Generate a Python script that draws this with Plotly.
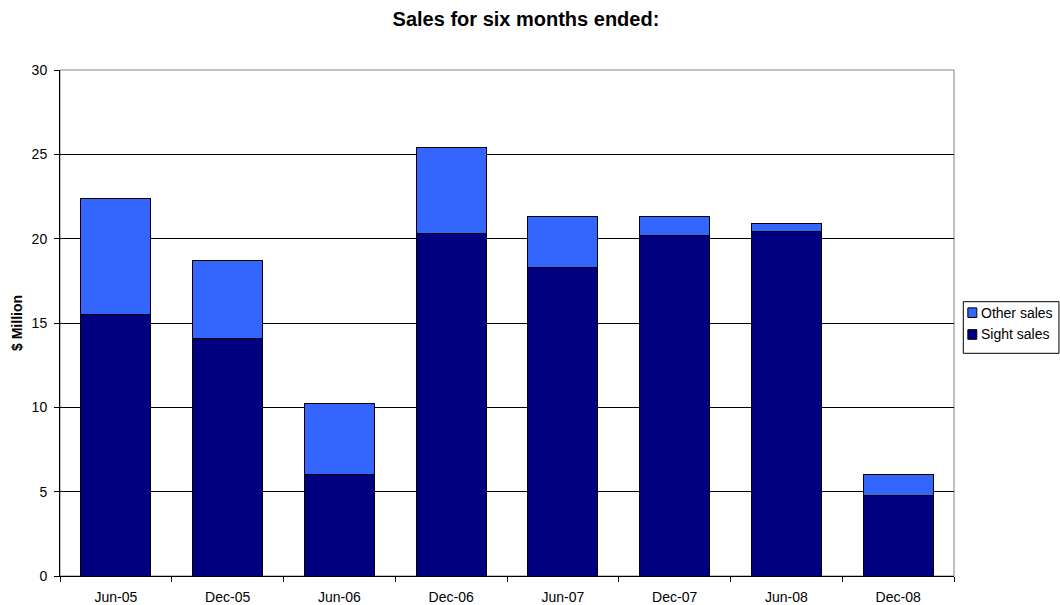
import plotly.graph_objects as go

categories = ["Jun-05", "Dec-05", "Jun-06", "Dec-06", "Jun-07", "Dec-07", "Jun-08", "Dec-08"]
sight_sales = [15.5, 14.1, 6.0, 20.3, 18.3, 20.2, 20.4, 4.8]
total_sales = [22.4, 18.7, 10.2, 25.4, 21.3, 21.3, 20.9, 6.0]
other_sales = [round(t - s, 2) for t, s in zip(total_sales, sight_sales)]
y_ticks = [0, 5, 10, 15, 20, 25, 30]

series_names = ["Sight sales", "Other sales"]
series_colors = ["#000080", "#3366FF"]
series_values = [sight_sales, other_sales]

FONT = "Arial, Liberation Sans, sans-serif"

fig = go.Figure()
for name, color, vals in zip(series_names, series_colors, series_values):
    fig.add_trace(go.Bar(x=categories, y=vals, name=name, showlegend=False,
                         marker=dict(color=color, line=dict(color="#000000", width=1))))

# legend drawn as a boxed key to the right of the plot (Other sales on top)
shapes = [
    dict(type="rect", xref="paper", yref="paper", x0=0, x1=1, y0=0, y1=1,
         line=dict(color="#808080", width=1), layer="below"),
    dict(type="rect", xref="paper", yref="paper", x0=1.0104, x1=1.1174,
         y0=0.4401, y1=0.5421, line=dict(color="#000000", width=1),
         fillcolor="white"),
]
annotations = []
legend_rows = [(0.5204, 1), (0.4773, 0)]
for yc, idx in legend_rows:
    shapes.append(dict(type="rect", xref="paper", yref="paper",
                       x0=1.0155, x1=1.0255, y0=yc - 0.0095, y1=yc + 0.0095,
                       line=dict(color="#000000", width=1),
                       fillcolor=series_colors[idx]))
    annotations.append(dict(text=series_names[idx], xref="paper", yref="paper",
                            x=1.0282, y=yc, xanchor="left", yanchor="middle",
                            showarrow=False, font=dict(size=14, family=FONT)))

fig.update_layout(
    width=1060, height=605,
    barmode="stack", bargap=0.374,
    paper_bgcolor="white", plot_bgcolor="white",
    font=dict(family=FONT, size=14, color="#000000"),
    margin=dict(l=60, r=106, t=70, b=29),
    title=dict(text="<b>Sales for six months ended:</b>", x=0.4962, xref="container",
               xanchor="center", y=0.9686, yref="container", yanchor="middle",
               font=dict(size=20, family=FONT)),
    showlegend=False,
    shapes=shapes,
    annotations=annotations,
)
fig.update_xaxes(type="category", showline=True, linecolor="#000000", linewidth=1,
                 ticks="outside", tickson="boundaries", ticklen=5, tickcolor="#000000",
                 showgrid=False, tickfont=dict(size=14), ticklabelstandoff=8,
                 automargin=False)
fig.update_yaxes(range=[0, 30], tickvals=y_ticks, showline=True, linecolor="#000000",
                 linewidth=1, ticks="outside", ticklen=5, tickcolor="#000000",
                 showgrid=True, gridcolor="#000000", gridwidth=1, zeroline=False,
                 tickfont=dict(size=14), ticklabelstandoff=4, automargin=False,
                 title=dict(text="<b>$ Million</b>", font=dict(size=14), standoff=5))

fig.write_html("out.html", config={"displayModeBar": False},
               post_script="document.body.style.margin='0';document.body.style.overflow='hidden';")
